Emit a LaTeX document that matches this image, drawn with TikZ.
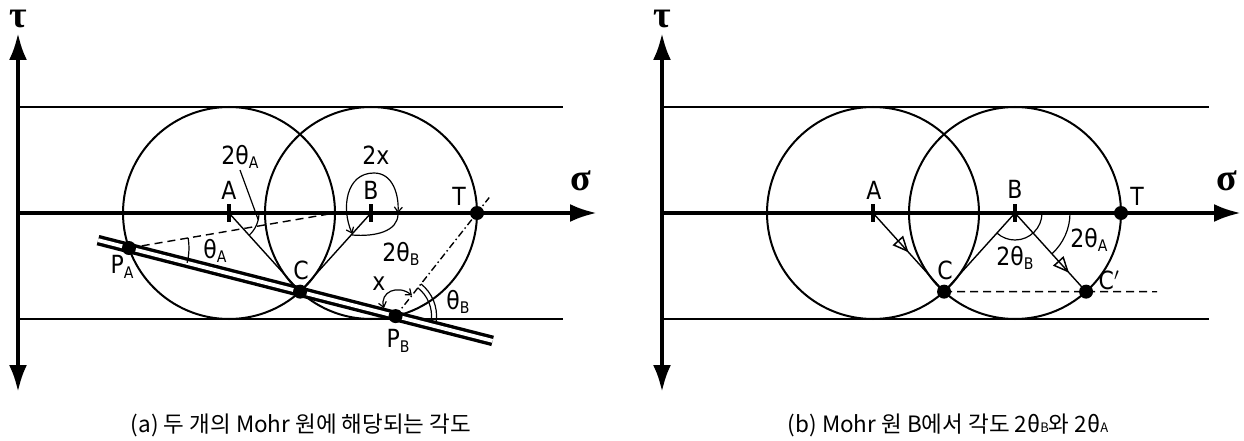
\documentclass[tikz,border=0pt]{standalone}
\usepackage{fontspec}
\setmainfont{DejaVu Sans}
\newfontfamily\labfont[FakeStretch=0.88]{DejaVu Sans}
\newfontfamily\kr{Noto Sans CJK KR}
\newfontfamily\grk{Liberation Serif}
\usetikzlibrary{arrows.meta,calc,decorations.markings}
\newcommand\sbs[1]{\raisebox{-0.18em}{\fontsize{16}{16}\selectfont #1}}
\begin{document}
\begin{tikzpicture}[x=1pt,y=1pt,
  axisline/.style={line width=4pt,{Latex[length=27pt,width=18pt]}-{Latex[length=27pt,width=18pt]}},
  axisr/.style={line width=4pt,-{Latex[length=27pt,width=18pt]}},
  band/.style={line width=2.2pt},
  circ/.style={line width=2pt},
  thinl/.style={line width=1.4pt},
  arcl/.style={line width=1.2pt},
  tickm/.style={line width=4.5pt},
  dot/.style={circle,fill=black,inner sep=0pt,minimum size=14pt},
  lab/.style={font=\labfont\fontsize{25}{26}\selectfont,inner sep=0pt},
  axl/.style={font=\grk\bfseries\fontsize{38}{38}\selectfont,inner sep=0pt},
  captext/.style={font=\kr\fontsize{22.5}{24}\selectfont,inner sep=0pt},
  barbs/.style={{Straight Barb[length=5pt,width=8pt]}-{Straight Barb[length=5pt,width=8pt]}},
  opentri/.style={decoration={markings,mark=at position #1 with {\arrow{Triangle[open,length=16pt,width=14pt,line width=1.5pt]}}},postaction={decorate}}
]
\useasboundingbox (0,0) rectangle (1244,-441);

%%%%%%%% panel (a)
\coordinate (A) at (229,-213);
\coordinate (B) at (371,-213);
\coordinate (T) at (477,-213);
\coordinate (D) at (335,-213);
\coordinate (C) at ($(A)+(-47.9:106)$);
\coordinate (PA) at ($(A)+(199.3:106)$);
\coordinate (PB) at ($(B)+(-76.6:106)$);
\coordinate (tauB) at (18,-392);
\coordinate (tauT) at (18,-33);
\coordinate (sigL) at (18,-213);
\coordinate (sigR) at (597,-213);
\coordinate (topL) at (18,-107);
\coordinate (topR) at (563,-107);
\coordinate (botL) at (18,-319);
\coordinate (botR) at (563,-319);

\draw[band] (topL) -- (topR);
\draw[band] (botL) -- (botR);
\draw[circ] (A) circle[radius=106];
\draw[circ] (B) circle[radius=106];
\draw[axisline] (tauB) -- (tauT);
\draw[axisr] (sigL) -- (sigR);
\draw[tickm] ($(A)+(0,9)$) -- ($(A)+(0,-9)$);
\draw[tickm] ($(B)+(0,9)$) -- ($(B)+(0,-9)$);

\draw[thinl] (A) -- (C);
\draw[thinl] (B) -- (C);
\draw[thinl,dash pattern=on 8pt off 5pt] (PA) -- (D);
\draw[thinl,dash pattern=on 7pt off 3pt on 1.5pt off 3pt] (PB) -- ($(PB)!1.15!(T)$);

\draw[line width=3.4pt,double=white,double distance=3.8pt] ($(PA)!-0.116!(PB)$) -- ($(PB)!-0.364!(PA)$);

% angle arcs
\draw[arcl] ($(PA)+(-14.3:60)$) arc[start angle=-14.3,end angle=9.7,radius=60];
\draw[arcl] ($(A)+(0:30)$) arc[start angle=0,end angle=-47.9,radius=30];
\draw[arcl,barbs] ($(B)+(227.9:28)$) .. controls ($(B)+(-30,5)$) and ($(B)+(-25,40)$) .. ($(B)+(3,40)$) .. controls ($(B)+(22,40)$) and ($(B)+(28,18)$) .. ($(B)+(27,0)$);
\draw[arcl] ($(B)+(27,-1)$) .. controls ($(B)+(27,-18)$) and ($(B)+(5,-24)$) .. ($(B)+(-19,-22)$);
\draw[arcl,barbs] ($(PB)+(-11.6,8)$) .. controls ($(PB)+(-16,24)$) and ($(PB)+(2,32)$) .. ($(PB)+(16.4,20.8)$);
\draw[arcl] ($(PB)+(51.7:36)$) arc[start angle=51.7,end angle=-7,radius=36];
\draw[arcl] ($(PB)+(51.7:41)$) arc[start angle=51.7,end angle=-7,radius=41];

\node[dot] (dT) at (T) {};
\node[dot] (dC) at (C) {};
\node[dot] (dPA) at (PA) {};
\node[dot] (dPB) at (PB) {};

\node[axl] (ltau) at (18,-19) {τ};
\node[axl] (lsig) at (581,-181) {σ};
\node[lab] (lA) at (229,-190) {A};
\node[lab] (lB) at (371,-190) {B};
\node[lab] (lT) at (459,-196) {T};
\node[lab] (l2tA) at (240,-157) {2θ\sbs{A}};
\draw[arcl] (240,-170) -- ($(A)+(-13:30)$);
\node[lab] (l2x) at (376,-155) {2x};
\node[lab] (lPA) at (122,-267) {P\sbs{A}};
\node[lab] (ltA) at (215,-251) {θ\sbs{A}};
\node[lab] (lC) at (301,-270) {C};
\node[lab] (l2tB) at (401,-254) {2θ\sbs{B}};
\node[lab] (lx) at (379,-284) {x};
\node[lab] (ltB) at (458,-302) {θ\sbs{B}};
\node[lab] (lPB) at (398,-341) {P\sbs{B}};

%%%%%%%% panel (b)
\coordinate (Ab) at (873,-213);
\coordinate (Bb) at (1015,-213);
\coordinate (Tb) at (1121,-213);
\coordinate (Cb) at ($(Ab)+(-47.9:106)$);
\coordinate (Cpb) at ($(Bb)+(-47.9:106)$);
\coordinate (Eb) at (1157,-291.7);
\coordinate (tauBb) at (662,-392);
\coordinate (tauTb) at (662,-33);
\coordinate (sigLb) at (662,-213);
\coordinate (sigRb) at (1241,-213);
\coordinate (topLb) at (662,-107);
\coordinate (topRb) at (1209,-107);
\coordinate (botLb) at (662,-319);
\coordinate (botRb) at (1209,-319);

\draw[band] (topLb) -- (topRb);
\draw[band] (botLb) -- (botRb);
\draw[circ] (Ab) circle[radius=106];
\draw[circ] (Bb) circle[radius=106];
\draw[axisline] (tauBb) -- (tauTb);
\draw[axisr] (sigLb) -- (sigRb);
\draw[tickm] ($(Ab)+(0,9)$) -- ($(Ab)+(0,-9)$);
\draw[tickm] ($(Bb)+(0,9)$) -- ($(Bb)+(0,-9)$);

\draw[thinl,opentri=0.5] (Ab) -- (Cb);
\draw[thinl,opentri=0.76] (Bb) -- (Cpb);
\draw[thinl] (Bb) -- (Cb);
\draw[thinl,dash pattern=on 8pt off 5pt] (Cb) -- (Eb);

\draw[arcl] ($(Bb)+(0:27)$) arc[start angle=0,end angle=-132.1,radius=27];
\draw[arcl] ($(Bb)+(0:55)$) arc[start angle=0,end angle=-47.9,radius=55];

\node[dot] (dTb) at (Tb) {};
\node[dot] (dCb) at (Cb) {};
\node[dot] (dCpb) at (Cpb) {};

\node[axl] (ltaub) at (662,-19) {τ};
\node[axl] (lsigb) at (1227,-181) {σ};
\node[lab] (lAb) at (874,-190) {A};
\node[lab] (lBb) at (1015,-189) {B};
\node[lab] (lTb) at (1137,-196) {T};
\node[lab] (lCb) at (945,-270) {C};
\node[lab] (lCpb) at (1109,-280) {C$'$};
\node[lab] (l2tBb) at (1015,-258) {2θ\sbs{B}};
\node[lab] (l2tAb) at (1089,-240) {2θ\sbs{A}};

%%%%%%%% captions
\node[captext] (capa) at (301,-425) {(a) 두 개의 Mohr 원에 해당되는 각도};
\node[captext] (capb) at (948,-425) {(b) Mohr 원 B에서 각도 2θ{\fontsize{13}{13}\selectfont B}와 2θ{\fontsize{13}{13}\selectfont A}};
\end{tikzpicture}
\end{document}
